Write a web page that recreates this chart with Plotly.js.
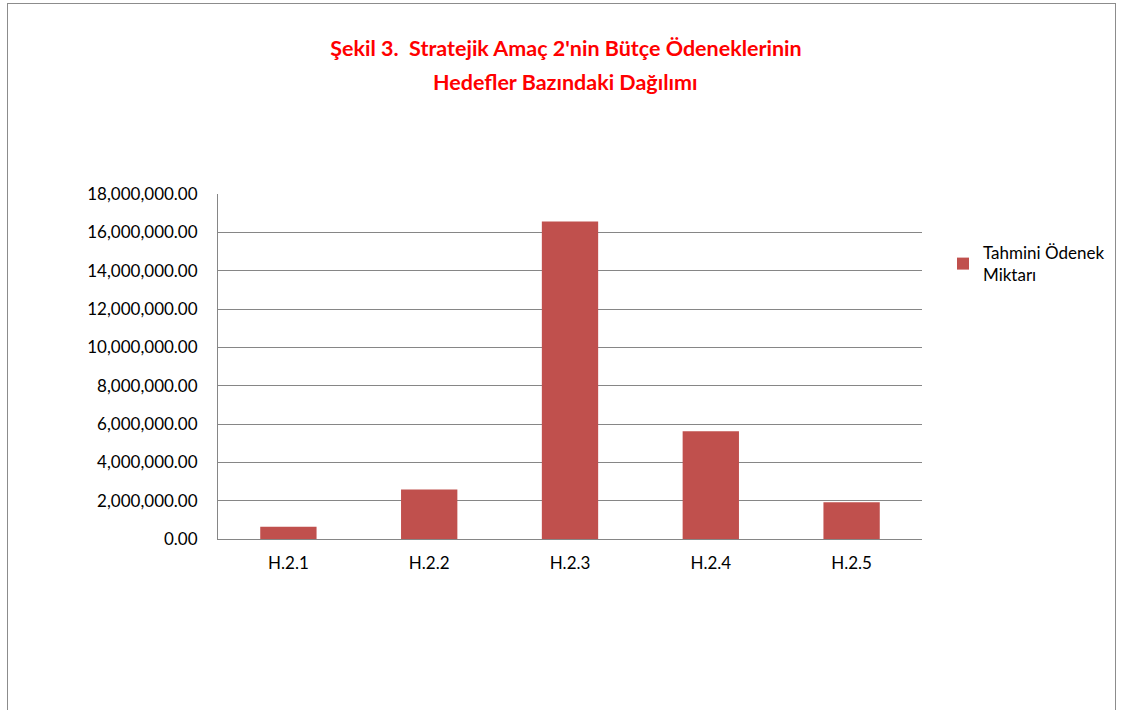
<!DOCTYPE html>
<html>
<head>
<meta charset="utf-8">
<script src="https://cdn.plot.ly/plotly-3.0.1.min.js"></script>
<style>
html,body{margin:0;padding:0;background:#fff;}
#wrap{position:relative;width:1122px;height:710px;overflow:hidden;}
#frame{position:absolute;left:7px;top:3px;width:1109px;height:720px;border:1px solid #8c8c8c;box-sizing:border-box;pointer-events:none;}
#chart{position:absolute;left:0;top:0;width:1122px;height:710px;}
</style>
</head>
<body>
<div id="wrap">
<div id="chart"></div>
<div id="frame"></div>
</div>
<script>
const categories = ["H.2.1", "H.2.2", "H.2.3", "H.2.4", "H.2.5"];
const values = [645000, 2580000, 16560000, 5620000, 1915000];
const seriesName = "Tahmini Ödenek<br>Miktarı";
const titleLine1 = "Şekil 3.  Stratejik Amaç 2'nin Bütçe Ödeneklerinin";
const titleLine2 = "Hedefler Bazındaki Dağılımı";

const FONT = "Lato, 'Open Sans', sans-serif";

const trace = {
  type: "bar",
  x: categories,
  y: values,
  name: seriesName,
  marker: {color: "#C0504D"},
  showlegend: true
};

const plotTop = 194, plotBottom = 539, plotH = plotBottom - plotTop;
const plotLeft = 218, plotRight = 922, plotW = plotRight - plotLeft;

const layout = {
  width: 1122,
  height: 710,
  margin: {l: plotLeft, r: 1122 - plotRight, t: plotTop, b: 710 - plotBottom, autoexpand: false},
  paper_bgcolor: "rgba(0,0,0,0)",
  plot_bgcolor: "#fff",
  font: {family: FONT, size: 17, color: "#000"},
  title: {
    text: titleLine1,
    font: {family: FONT, size: 21.5, color: "#ff0000", weight: "bold"},
    x: 566 / 1122, xref: "container", xanchor: "center",
    y: 1 - 48/710, yref: "container", yanchor: "middle"
  },
  annotations: [{
    text: titleLine2,
    showarrow: false,
    xref: "paper", yref: "paper",
    x: (565 - plotLeft) / plotW, xanchor: "center",
    y: 1 + (plotTop - 82) / plotH, yanchor: "middle",
    font: {family: FONT, size: 21.5, color: "#ff0000", weight: "bold"}
  }],
  bargap: 0.6,
  xaxis: {
    type: "category",
    showgrid: false,
    showline: true,
    linecolor: "#868686",
    linewidth: 1,
    ticks: "",
    tickfont: {size: 17, color: "#000"},
    ticklabelstandoff: 9
  },
  yaxis: {
    range: [0, 18000000],
    dtick: 2000000,
    tickformat: ",.2f",
    showgrid: true,
    gridcolor: "#868686",
    gridwidth: 1,
    zeroline: false,
    showline: true,
    linecolor: "#868686",
    linewidth: 1,
    ticks: "",
    tickfont: {size: 17, color: "#000"},
    ticklabelstandoff: 16
  },
  legend: {
    xref: "container",
    x: 943 / 1122, xanchor: "left",
    yref: "container",
    y: 1 - 235 / 710, yanchor: "top",
    font: {size: 17, color: "#000"},
    itemwidth: 30,
    bgcolor: "rgba(0,0,0,0)"
  }
};

Plotly.newPlot("chart", [trace], layout, {displayModeBar: false, staticPlot: true});
</script>
</body>
</html>
